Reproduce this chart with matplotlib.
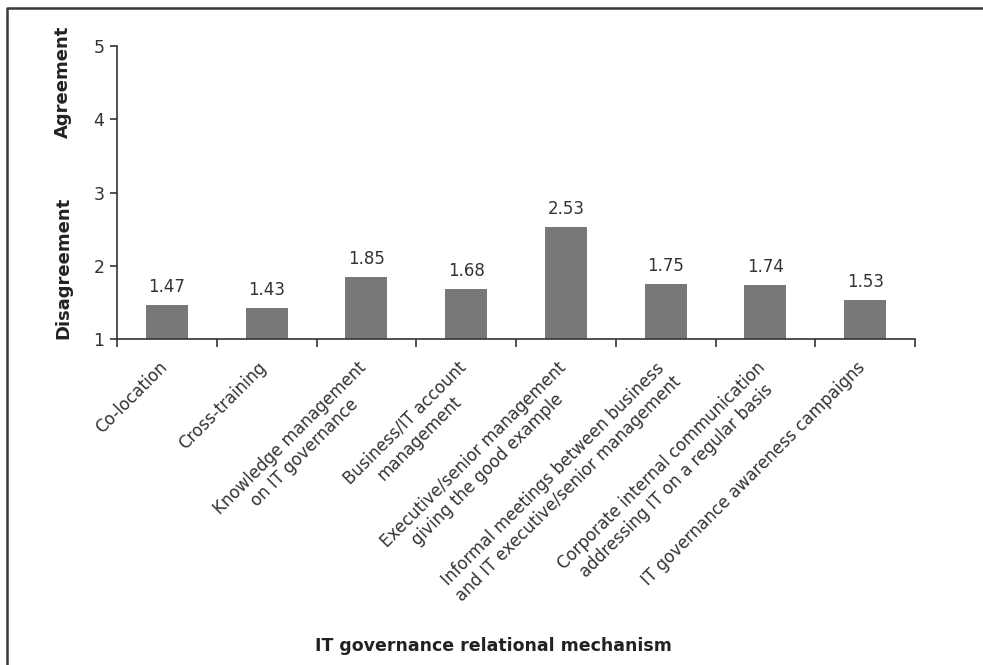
import matplotlib
matplotlib.use("Agg")
import matplotlib.pyplot as plt
import matplotlib.transforms as mtransforms
from matplotlib.lines import Line2D
import numpy as np

# Mean agreement score per relational mechanism (1 = disagree, 5 = agree)
mechanisms = [
    "Co-location",
    "Cross-training",
    "Knowledge management\non IT governance",
    "Business/IT account\nmanagement",
    "Executive/senior management\ngiving the good example",
    "Informal meetings between business\nand IT executive/senior management",
    "Corporate internal communication\naddressing IT on a regular basis",
    "IT governance awareness campaigns",
]
scores = [1.47, 1.43, 1.85, 1.68, 2.53, 1.75, 1.74, 1.53]
yticks = [1, 2, 3, 4, 5]

plt.rcParams["font.family"] = ["DejaVu Sans"]

fig = plt.figure(figsize=(9.83, 6.65), dpi=100)
ax = fig.add_axes([117 / 983, 1 - 339 / 665, 798 / 983, 293 / 665])

x = np.arange(len(mechanisms))
bars = ax.bar(x, np.array(scores) - 1, bottom=1, width=0.42, color="#77787a")

for xi, v in zip(x, scores):
    ax.text(xi, v + 0.12, f"{v:.2f}", ha="center", va="bottom",
            fontsize=12, color="#333333")

ax.set_xlim(-0.5, len(mechanisms) - 0.5)
ax.set_ylim(1, 5)
ax.set_yticks(yticks)
ax.set_yticklabels([str(t) for t in yticks], fontsize=12.5, color="#333333")

# category labels between boundary ticks
ax.set_xticks(np.arange(len(mechanisms) + 1) - 0.5)
ax.set_xticklabels([])
ax.set_xticks(x, minor=True)
ax.set_xticklabels(mechanisms, minor=True, rotation=45, ha="right", va="top",
                   rotation_mode="anchor", fontsize=12, color="#333333",
                   multialignment="center", linespacing=1.2)
ax.tick_params(axis="x", which="minor", length=0, pad=14)
ax.tick_params(axis="x", which="major", length=6, width=1.2, color="#333333")
ax.tick_params(axis="y", length=5, width=1.2, color="#333333", pad=4)

# nudge rotated labels left so the text ends under the bar centre
shift = mtransforms.ScaledTranslation(-0.09, 0, fig.dpi_scale_trans)
for lbl in ax.get_xticklabels(minor=True):
    lbl.set_transform(lbl.get_transform() + shift)

for side in ["top", "right"]:
    ax.spines[side].set_visible(False)
for side in ["left", "bottom"]:
    ax.spines[side].set_linewidth(1.2)
    ax.spines[side].set_color("#333333")

fig.text(63 / 983, 1 - 268 / 665, "Disagreement", rotation=90, ha="center",
         va="center", fontsize=13, fontweight="bold", color="#222222")
fig.text(63 / 983, 1 - 82 / 665, "Agreement", rotation=90, ha="center",
         va="center", fontsize=13, fontweight="bold", color="#222222")
fig.text(493 / 983, 1 - 646 / 665, "IT governance relational mechanism",
         ha="center", va="center", fontsize=12.5, fontweight="bold",
         color="#222222")

# open frame around the figure
fx = 6.5 / 983
fy = 1 - 7.5 / 665
fig.add_artist(Line2D([fx, fx, 1.0], [0.0, fy, fy], transform=fig.transFigure,
                      color="#3a3a3a", linewidth=1.8))

fig.savefig("out.png", dpi=100)
